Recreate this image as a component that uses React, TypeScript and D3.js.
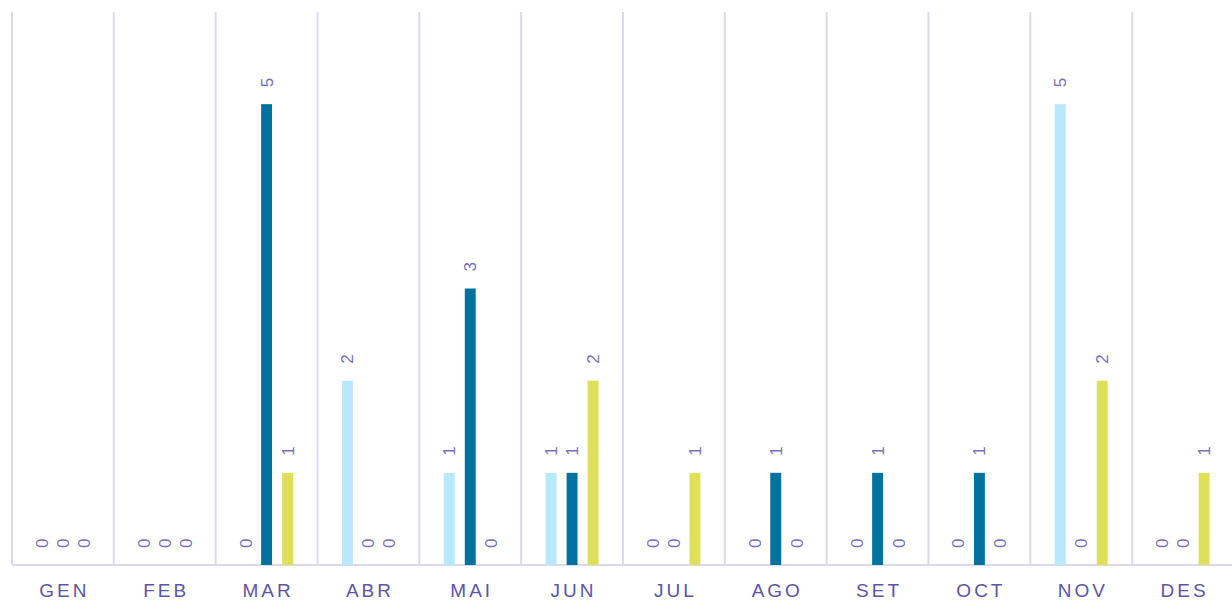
import React from "react";
import * as d3 from "d3";

const months = ["GEN", "FEB", "MAR", "ABR", "MAI", "JUN", "JUL", "AGO", "SET", "OCT", "NOV", "DES"];
const seriesNames = ["A", "B", "C"];
const seriesA = [0, 0, 0, 2, 1, 1, 0, 0, 0, 0, 5, 0];
const seriesB = [0, 0, 5, 0, 3, 1, 0, 1, 1, 1, 0, 0];
const seriesC = [0, 0, 1, 0, 0, 2, 1, 0, 0, 0, 2, 1];
const colors = ["#b8e8fb", "#00729f", "#dfe05a"];

const W = 1232;
const H = 603;
const left = 12;
const right = 1234;
const top = 12;
const bottom = 565;

export default function App() {
  const data = [seriesA, seriesB, seriesC];
  const x0 = d3.scaleBand<string>().domain(months).range([left, right]).padding(0);
  const groupW = 63;
  const x1 = d3.scaleBand<string>().domain(seriesNames).range([0, groupW]).paddingInner(0.48).paddingOuter(0.24);
  const y = d3.scaleLinear().domain([0, 6]).range([bottom, top]);
  const bw = x0.bandwidth();
  const gridXs = months.map((m) => x0(m) as number);

  return (
    <svg width={W} height={H} style={{ position: "absolute", left: 0, top: 0 }} fontFamily="'Liberation Sans', Arial, sans-serif">
      <rect width={W} height={H} fill="#ffffff" />
      {gridXs.map((gx, i) => (
        <line key={"g" + i} x1={gx} x2={gx} y1={top} y2={bottom} stroke="#dcd9ec" strokeWidth={2} />
      ))}
      <line x1={left} x2={right} y1={bottom} y2={bottom} stroke="#dcd9ec" strokeWidth={2} />
      {months.map((m, i) => {
        const gx0 = (x0(m) as number) + (bw - groupW) / 2;
        return (
          <g key={m}>
            {data.map((s, si) => {
              const v = s[i];
              const bx = gx0 + (x1(seriesNames[si]) as number);
              const w = x1.bandwidth();
              const cx = bx + w / 2;
              const yt = y(v);
              return (
                <g key={si}>
                  {v > 0 && <rect x={bx} y={yt} width={w} height={bottom - yt} fill={colors[si]} />}
                  <text
                    transform={`translate(${cx},${yt - 17}) rotate(-90)`}
                    dy="0.35em"
                    fontSize={17}
                    fill="#7a6fb8"
                    textAnchor="start"
                  >
                    {v}
                  </text>
                </g>
              );
            })}
            <text
              x={(x0(m) as number) + bw / 2 + 1.5}
              y={597}
              textAnchor="middle"
              fontSize={19}
              letterSpacing={3}
              fill="#5e54a3"
            >
              {m}
            </text>
          </g>
        );
      })}
    </svg>
  );
}
